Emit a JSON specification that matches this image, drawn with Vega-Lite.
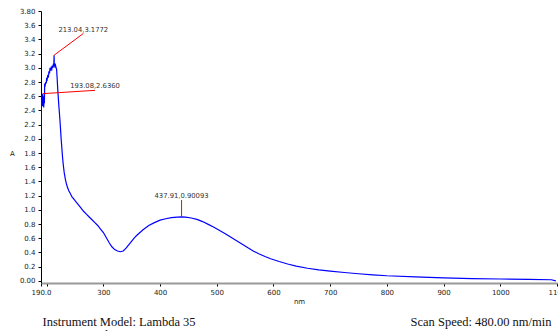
{
  "$schema": "https://vega.github.io/schema/vega-lite/v6.json",
  "width": 516,
  "height": 272,
  "autosize": "none",
  "padding": {"left": 41, "top": 11, "right": 1, "bottom": 48},
  "background": "white",
  "config": {
    "view": {"stroke": null},
    "axis": {
      "grid": false,
      "labelFont": "DejaVu Sans",
      "labelFontSize": 7,
      "labelColor": "#222",
      "titleFont": "DejaVu Sans",
      "titleFontSize": 7,
      "titleFontWeight": "normal",
      "titleColor": "#222",
      "tickColor": "#000",
      "tickSize": 3
    }
  },
  "datasets": {
    "spectrum": [
      {"nm": 190, "A": 2.04}, {"nm": 190.5, "A": 2.35}, {"nm": 191, "A": 2.6}, {"nm": 191.5, "A": 2.5},
      {"nm": 192, "A": 2.62}, {"nm": 192.5, "A": 2.46}, {"nm": 193.08, "A": 2.636}, {"nm": 193.6, "A": 2.48},
      {"nm": 194.2, "A": 2.6}, {"nm": 194.8, "A": 2.44}, {"nm": 195.5, "A": 2.58}, {"nm": 196, "A": 2.5},
      {"nm": 196.5, "A": 2.78}, {"nm": 197.5, "A": 2.76}, {"nm": 198.5, "A": 2.8}, {"nm": 199.2, "A": 2.78},
      {"nm": 200, "A": 2.86}, {"nm": 201, "A": 2.84}, {"nm": 202, "A": 2.9}, {"nm": 203, "A": 2.86},
      {"nm": 204, "A": 2.95}, {"nm": 205, "A": 2.92}, {"nm": 206, "A": 3.0}, {"nm": 207, "A": 2.96},
      {"nm": 208, "A": 3.0}, {"nm": 209, "A": 2.98}, {"nm": 210, "A": 3.03}, {"nm": 211, "A": 3.0},
      {"nm": 212, "A": 3.06}, {"nm": 212.6, "A": 3.02}, {"nm": 213.04, "A": 3.1772}, {"nm": 213.5, "A": 3.05},
      {"nm": 214.5, "A": 3.02}, {"nm": 215.5, "A": 3.04}, {"nm": 216.5, "A": 3.0}, {"nm": 217.5, "A": 2.98},
      {"nm": 218.5, "A": 2.85}, {"nm": 219.5, "A": 2.7}, {"nm": 220.5, "A": 2.58}, {"nm": 221.5, "A": 2.46},
      {"nm": 222.5, "A": 2.36}, {"nm": 223.5, "A": 2.25}, {"nm": 224.5, "A": 2.13}, {"nm": 225.5, "A": 2.0},
      {"nm": 226.5, "A": 1.9}, {"nm": 228, "A": 1.74}, {"nm": 229.5, "A": 1.62}, {"nm": 231, "A": 1.52},
      {"nm": 233, "A": 1.43}, {"nm": 235, "A": 1.36}, {"nm": 237, "A": 1.31}, {"nm": 239, "A": 1.27},
      {"nm": 241, "A": 1.24}, {"nm": 243, "A": 1.21}, {"nm": 245, "A": 1.18}, {"nm": 247, "A": 1.16},
      {"nm": 250, "A": 1.13}, {"nm": 255, "A": 1.08}, {"nm": 260, "A": 1.03}, {"nm": 265, "A": 0.98},
      {"nm": 270, "A": 0.94}, {"nm": 275, "A": 0.9}, {"nm": 280, "A": 0.86}, {"nm": 285, "A": 0.82},
      {"nm": 290, "A": 0.78}, {"nm": 295, "A": 0.73}, {"nm": 300, "A": 0.68}, {"nm": 305, "A": 0.61},
      {"nm": 310, "A": 0.54}, {"nm": 315, "A": 0.48}, {"nm": 320, "A": 0.44}, {"nm": 325, "A": 0.42},
      {"nm": 330, "A": 0.41}, {"nm": 335, "A": 0.42}, {"nm": 340, "A": 0.46}, {"nm": 345, "A": 0.51},
      {"nm": 350, "A": 0.56}, {"nm": 355, "A": 0.61}, {"nm": 360, "A": 0.65}, {"nm": 370, "A": 0.72},
      {"nm": 380, "A": 0.78}, {"nm": 390, "A": 0.82}, {"nm": 400, "A": 0.855}, {"nm": 410, "A": 0.875},
      {"nm": 420, "A": 0.89}, {"nm": 430, "A": 0.898}, {"nm": 437.91, "A": 0.90093}, {"nm": 445, "A": 0.897},
      {"nm": 455, "A": 0.885}, {"nm": 465, "A": 0.865}, {"nm": 475, "A": 0.835}, {"nm": 485, "A": 0.795},
      {"nm": 495, "A": 0.755}, {"nm": 505, "A": 0.71}, {"nm": 515, "A": 0.665}, {"nm": 525, "A": 0.615},
      {"nm": 535, "A": 0.565}, {"nm": 545, "A": 0.515}, {"nm": 555, "A": 0.465}, {"nm": 565, "A": 0.418},
      {"nm": 575, "A": 0.378}, {"nm": 585, "A": 0.343}, {"nm": 595, "A": 0.312}, {"nm": 610, "A": 0.272},
      {"nm": 625, "A": 0.237}, {"nm": 640, "A": 0.207}, {"nm": 660, "A": 0.178}, {"nm": 680, "A": 0.155},
      {"nm": 700, "A": 0.138}, {"nm": 725, "A": 0.118}, {"nm": 750, "A": 0.1}, {"nm": 775, "A": 0.085},
      {"nm": 800, "A": 0.072}, {"nm": 850, "A": 0.055}, {"nm": 900, "A": 0.042}, {"nm": 950, "A": 0.032},
      {"nm": 1000, "A": 0.026}, {"nm": 1050, "A": 0.02}, {"nm": 1090, "A": 0.016}, {"nm": 1098, "A": 0.0}
    ],
    "peaks": [
      {"nm": 213.04, "A": 3.1772, "nm2": 264.6, "A2": 3.483, "label": "213.04,3.1772"},
      {"nm": 193.08, "A": 2.636, "nm2": 285.3, "A2": 2.683, "label": "193.08,2.6360"},
      {"nm": 437.91, "A": 0.90093, "nm2": 437.91, "A2": 1.138, "label": "437.91,0.90093"}
    ]
  },
  "layer": [
    {
      "data": {"name": "spectrum"},
      "mark": {"type": "line", "color": "#0000ff", "strokeWidth": 1.2, "clip": true},
      "encoding": {
        "x": {
          "field": "nm", "type": "quantitative",
          "scale": {"domain": [190, 1100], "nice": false, "zero": false},
          "axis": {
            "title": "nm",
            "values": [190, 200, 300, 400, 500, 600, 700, 800, 900, 1000, 1100],
            "labelExpr": "datum.value == 190 ? '190.0' : datum.value == 200 ? '' : datum.value",
            "domainColor": "#999",
            "domainWidth": 2,
            "labelPadding": 2,
            "titlePadding": 2,
            "labelFlush": false,
            "labelOverlap": false
          }
        },
        "y": {
          "field": "A", "type": "quantitative",
          "scale": {"domain": [-0.03, 3.8], "nice": false, "zero": false},
          "axis": {
            "title": "A",
            "titleAngle": 0,
            "titleX": -29,
            "titleY": 142,
            "titleAlign": "center",
            "titleBaseline": "middle",
            "values": [0, 0.2, 0.4, 0.6, 0.8, 1.0, 1.2, 1.4, 1.6, 1.8, 2.0, 2.2, 2.4, 2.6, 2.8, 3.0, 3.2, 3.4, 3.6, 3.8],
            "labelExpr": "datum.value == 0 ? '0.00' : datum.value >= 3.79 ? '3.80' : format(datum.value, '.1f')",
            "domainColor": "#000",
            "labelPadding": 3,
            "labelOverlap": false,
            "labelFlush": false
          }
        }
      }
    },
    {
      "data": {"name": "peaks"},
      "mark": {"type": "rule", "color": "#ff0000", "strokeWidth": 1},
      "encoding": {
        "x": {
          "field": "nm", "type": "quantitative",
          "axis": {
            "title": ["Instrument Model: Lambda 35", "Date Created: 1/1/2008"],
            "orient": "bottom",
            "domain": false,
            "ticks": false,
            "labels": false,
            "titleFont": "Liberation Serif",
            "titleFontSize": 12.5,
            "titleColor": "#111",
            "titleAlign": "left",
            "titleBaseline": "top",
            "titleLineHeight": 13,
            "titleX": 1,
            "titleY": 32
          }
        },
        "y": {"field": "A", "type": "quantitative", "axis": null},
        "x2": {"field": "nm2"},
        "y2": {"field": "A2"}
      }
    },
    {
      "data": {"name": "peaks"},
      "mark": {"type": "text", "font": "DejaVu Sans", "fontSize": 6.8, "color": "#333", "align": "center", "baseline": "bottom", "dy": -1},
      "encoding": {
        "x": {
          "field": "nm2", "type": "quantitative",
          "axis": {
            "title": "Scan Speed: 480.00 nm/min",
            "orient": "bottom",
            "domain": false,
            "ticks": false,
            "labels": false,
            "titleFont": "Liberation Serif",
            "titleFontSize": 12.5,
            "titleColor": "#111",
            "titleAlign": "right",
            "titleBaseline": "middle",
            "titleX": 510,
            "titleY": 38
          }
        },
        "y": {"field": "A2", "type": "quantitative", "axis": null},
        "text": {"field": "label"}
      }
    }
  ],
  "resolve": {"axis": {"x": "independent", "y": "independent"}}
}
